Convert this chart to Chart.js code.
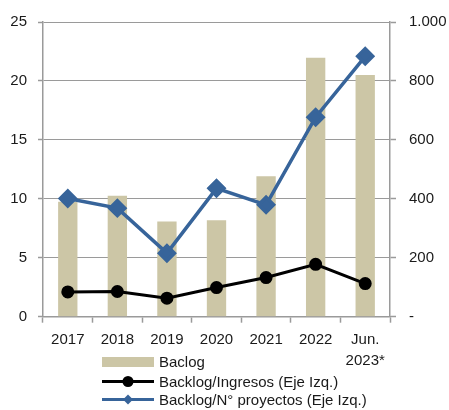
<!DOCTYPE html>
<html>
<head>
<meta charset="utf-8">
<script src="https://cdn.jsdelivr.net/npm/chart.js@4"></script>
<style>
    html, body { margin: 0; padding: 0; background: #fff; }
    #chart_container { width: 449px; height: 410px; }
</style>
</head>
<body>
<div id="chart_container">
    <canvas id="grafico_backlog"></canvas>
</div>
<script>
    const categorie = ['2017', '2018', '2019', '2020', '2021', '2022', ['Jun.', '2023*']];
    const baclog = [390, 410, 323, 327, 477, 879, 820];
    const backlogIngresos = [2.1, 2.14, 1.57, 2.47, 3.32, 4.44, 2.81];
    const backlogProyectos = [10.02, 9.21, 5.39, 10.89, 9.49, 16.92, 22.09];

    const colBar = '#ccc6a6';
    const colBlu = '#37649a';
    const colAsse = '#9a9a9a';
    const fontBase = '"Liberation Sans", Arial, sans-serif';

    // legenda disegnata a mano, una voce per riga
    const legendaPlugin = {
        id: 'legenda',
        afterDraw(chart) {
            const c = chart.ctx;
            const x0 = 102, x1 = 154, tx = 159;
            const righe = [362, 381.5, 399.5];
            c.save();
            c.font = '15px ' + fontBase;
            c.fillStyle = '#1a1a1a';
            c.textBaseline = 'middle';
            c.textAlign = 'left';
            chart.data.datasets.forEach((ds, i) => {
                const y = righe[i];
                if (ds.type === 'bar') {
                    c.fillStyle = colBar;
                    c.fillRect(x0, y - 5, x1 - x0, 10);
                } else {
                    c.strokeStyle = ds.borderColor;
                    c.lineWidth = 3;
                    c.beginPath();
                    c.moveTo(x0, y);
                    c.lineTo(x1, y);
                    c.stroke();
                    c.fillStyle = ds.borderColor;
                    const xm = (x0 + x1) / 2;
                    c.beginPath();
                    if (ds.pointStyle === 'rectRot') {
                        c.moveTo(xm, y - 5); c.lineTo(xm + 5, y); c.lineTo(xm, y + 5); c.lineTo(xm - 5, y);
                        c.closePath();
                    } else {
                        c.arc(xm, y, 5.5, 0, Math.PI * 2);
                    }
                    c.fill();
                }
                c.fillStyle = '#1a1a1a';
                c.fillText(ds.label, tx, y + 1);
            });
            c.restore();
        }
    };

    const ctx = document.getElementById('grafico_backlog');
    new Chart(ctx, {
        data: {
            labels: categorie,
            datasets: [
                {
                    type: 'bar',
                    label: 'Baclog',
                    data: baclog,
                    yAxisID: 'y1',
                    backgroundColor: colBar,
                    barPercentage: 0.39,
                    categoryPercentage: 1,
                    order: 3,
                },
                {
                    type: 'line',
                    label: 'Backlog/Ingresos (Eje Izq.)',
                    data: backlogIngresos,
                    yAxisID: 'y',
                    borderColor: '#000',
                    backgroundColor: '#000',
                    borderWidth: 3,
                    pointStyle: 'circle',
                    pointRadius: 5,
                    pointHoverRadius: 5,
                    tension: 0,
                    order: 1,
                },
                {
                    type: 'line',
                    label: 'Backlog/N° proyectos (Eje Izq.)',
                    data: backlogProyectos,
                    yAxisID: 'y',
                    borderColor: colBlu,
                    backgroundColor: colBlu,
                    borderWidth: 3.5,
                    pointStyle: 'rectRot',
                    pointRadius: 7.5,
                    pointHoverRadius: 7.5,
                    tension: 0,
                    order: 2,
                },
            ]
        },
        options: {
            responsive: true,
            maintainAspectRatio: false,
            animation: false,
            layout: { padding: { top: 20, bottom: 0, left: 0, right: 0 } },
            plugins: {
                legend: { display: false },
                tooltip: { enabled: false },
            },
            scales: {
                x: {
                    offset: true,
                    afterFit: (axis) => { axis.height = 93.3; },
                    grid: {
                        offset: true,
                        drawOnChartArea: false,
                        tickLength: 6,
                        tickColor: colAsse,
                        tickWidth: 1.5,
                    },
                    border: { color: colAsse, width: 1.5 },
                    ticks: {
                        color: '#1a1a1a',
                        padding: 6,
                        maxRotation: 0,
                        autoSkip: false,
                        font: { family: fontBase, size: 15, lineHeight: 1.45 },
                    },
                },
                y: {
                    position: 'left',
                    min: 0,
                    max: 25,
                    afterFit: (axis) => { axis.width = 43; },
                    grid: {
                        color: colAsse,
                        lineWidth: 1,
                        borderDash: [3, 3],
                        tickLength: 5,
                        tickColor: colAsse,
                        tickWidth: 1.5,
                        tickBorderDash: [],
                    },
                    border: { color: colAsse, width: 1.5, dash: [] },
                    ticks: {
                        stepSize: 5,
                        color: '#1a1a1a',
                        padding: 11,
                        font: { family: fontBase, size: 15 },
                    },
                },
                y1: {
                    position: 'right',
                    min: 0,
                    max: 1000,
                    afterFit: (axis) => { axis.width = 59; },
                    grid: {
                        drawOnChartArea: false,
                        tickLength: 6,
                        tickColor: colAsse,
                        tickWidth: 1.5,
                    },
                    border: { color: colAsse, width: 1.5 },
                    ticks: {
                        stepSize: 200,
                        color: '#1a1a1a',
                        padding: 13,
                        font: { family: fontBase, size: 15 },
                        callback: (v) => v === 0 ? '-' : String(v).replace(/\B(?=(\d{3})+(?!\d))/g, '.'),
                    },
                },
            },
        },
        plugins: [legendaPlugin],
    });
</script>
</body>
</html>
